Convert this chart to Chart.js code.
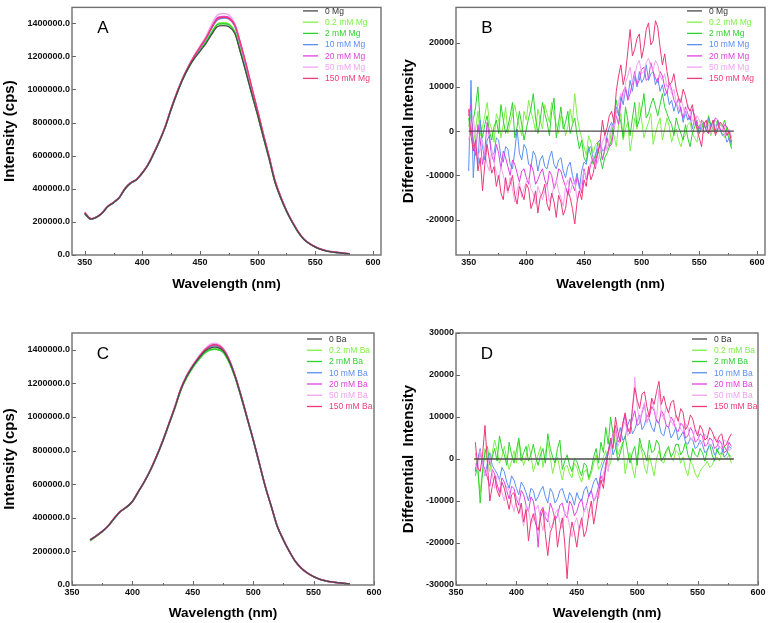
<!DOCTYPE html>
<html>
<head>
<meta charset="utf-8">
<script src="https://cdn.jsdelivr.net/npm/chart.js@4.4.0/dist/chart.umd.min.js"></script>
<style>
    html, body { margin: 0; padding: 0; background: #fff; }
    #wrap { position: relative; width: 768px; height: 623px; overflow: hidden; }
    canvas { position: absolute; }
    #cA { left: 0; top: 0; }
    #cB { left: 384px; top: 0; }
    #cC { left: 0; top: 300px; }
    #cD { left: 384px; top: 300px; }
</style>
</head>
<body>
<div id="wrap">
    <canvas id="cA" width="384" height="300"></canvas>
    <canvas id="cB" width="384" height="300"></canvas>
    <canvas id="cC" width="384" height="323"></canvas>
    <canvas id="cD" width="384" height="323"></canvas>
</div>
<script>
// データここから
const mgLabels = ["0 Mg", "0.2 mM Mg", "2 mM Mg", "10 mM Mg", "20 mM Mg", "50 mM Mg", "150 mM Mg"];
const baLabels = ["0 Ba", "0.2 mM Ba", "2 mM Ba", "10 mM Ba", "20 mM Ba", "50 mM Ba", "150 mM Ba"];

const tickX = [350, 400, 450, 500, 550, 600];
const tickYA = [0, 200000, 400000, 600000, 800000, 1000000, 1200000, 1400000];
const tickYB = [-20000, -10000, 0, 10000, 20000];
const tickYC = [0, 200000, 400000, 600000, 800000, 1000000, 1200000, 1400000];
const tickYD = [-30000, -20000, -10000, 0, 10000, 20000, 30000];

// A: Mg emission spectra
const wlA = [350,355,360,365,370,375,380,385,390,395,400,405,410,415,420,425,430,435,440,445,450,455,460,465,470,475,480,485,490,495,500,505,510,515,520,525,530,535,540,545,550,555,560,565,570,575,580];
const mg0A = [250000,217000,227000,252000,292000,316000,346000,400000,435000,455000,495000,545000,614000,690000,775000,880000,975000,1060000,1130000,1185000,1230000,1275000,1330000,1378000,1385000,1378000,1340000,1225000,1100000,970000,845000,710000,580000,440000,345000,265000,198000,140000,95000,68000,48000,34000,24000,18000,14000,10000,6000];
const mg02A = [248000,216000,226000,251000,291000,316000,345000,399000,434000,455000,494000,545000,613000,689000,774000,879000,975000,1061000,1131000,1190000,1238000,1287000,1345000,1395000,1402000,1396000,1352000,1232000,1104000,972000,846000,710000,579000,440000,344000,265000,197000,140000,95000,68000,48000,34000,24000,18000,14000,10000,6000];
const mg2A = [249000,216000,227000,252000,291000,315000,346000,399000,435000,454000,495000,544000,614000,689000,775000,879000,974000,1059000,1129000,1186000,1234000,1283000,1340000,1390000,1396000,1390000,1348000,1230000,1102000,970000,845000,710000,580000,440000,345000,264000,198000,139000,95000,68000,48000,34000,24000,18000,14000,10000,6000];
const mg10A = [252000,218000,228000,253000,293000,317000,347000,401000,436000,456000,496000,546000,615000,691000,777000,883000,979000,1065000,1136000,1198000,1250000,1303000,1368000,1420000,1430000,1425000,1385000,1270000,1140000,1000000,865000,725000,590000,448000,350000,268000,200000,142000,97000,69000,49000,35000,25000,18000,14000,10000,6000];
const mg20A = [254000,219000,228000,253000,293000,317000,347000,401000,436000,456000,496000,547000,616000,692000,778000,884000,980000,1066000,1138000,1200000,1254000,1308000,1376000,1432000,1440000,1435000,1392000,1278000,1148000,1005000,870000,728000,592000,450000,351000,269000,201000,143000,97000,69000,49000,35000,25000,19000,15000,10000,6000];
const mg50A = [255000,219000,229000,254000,294000,318000,348000,402000,437000,457000,497000,548000,618000,694000,780000,886000,982000,1068000,1140000,1204000,1260000,1318000,1390000,1448000,1458000,1450000,1400000,1280000,1148000,1005000,868000,726000,590000,449000,350000,268000,200000,142000,96000,69000,49000,35000,25000,19000,15000,11000,7000];
const mg150A = [258000,220000,229000,254000,294000,318000,348000,402000,437000,457000,497000,547000,617000,693000,779000,885000,981000,1067000,1138000,1200000,1255000,1306000,1372000,1425000,1435000,1428000,1392000,1280000,1152000,1010000,872000,728000,593000,451000,351000,269000,201000,143000,97000,69000,50000,35000,25000,19000,15000,11000,7000];

// B: Mg differential
const zeroWlB = [350, 580];
const zeroB = [0, 0];
const wlB = [350,352,354,356,358,360,362,364,366,368,370,372,374,376,378,380,382,384,386,388,390,392,394,396,398,400,402,404,406,408,410,412,414,416,418,420,422,424,426,428,430,432,434,436,438,440,442,444,446,448,450,452,454,456,458,460,462,464,466,468,470,472,474,476,478,480,482,484,486,488,490,492,494,496,498,500,502,504,506,508,510,512,514,516,518,520,522,524,526,528,530,532,534,536,538,540,542,544,546,548,550,552,554,556,558,560,562,564,566,568,570,572,574,576,578];
const mg02B = [1000,4000,-3000,500,4500,-1000,1000,3500,6500,2000,500,-2500,4000,2500,-1500,1500,5500,-500,2000,3500,6000,3000,1000,-1000,4500,2500,7000,4500,2500,0,5000,2500,500,6000,4000,2000,6500,3500,1500,-500,3500,2500,-1000,1000,5000,2000,8500,3500,500,-1500,-3500,-5500,-1000,-2500,-5000,-3000,-2500,-4000,-6500,-4500,-2000,-3500,1000,-1000,-3500,1500,4000,-2000,500,2000,-4500,-1000,3000,500,6500,2500,-1500,500,2000,4000,-3000,-500,1500,3000,-2000,500,3000,1000,-2500,-500,500,-2000,-3500,-1500,-1000,1500,2000,-500,-1500,-2500,1000,2500,-500,500,2500,-1000,500,2500,1500,0,-500,-1500,1000,-1000,-3500];
const mg2B = [3000,-1000,2500,5500,10000,2000,-1500,1500,3500,0,-2000,1000,2500,-500,6000,2500,-500,1000,3500,6500,-1500,1000,4500,1500,-2000,500,3000,5000,8500,3000,-500,2500,6500,4000,2000,-1000,4500,7500,-1500,2000,5500,500,2000,4500,-500,1500,3000,-1000,-4000,-2000,-6000,-7000,-3500,-5500,-7500,-5000,-4000,-6000,-8500,-6000,-5000,-3500,-2000,3000,7000,4000,2000,-1500,5500,2500,-1000,3000,6500,1000,2500,5000,8500,3000,4000,6000,7500,5500,3500,6000,8500,5500,4000,2500,1500,-1000,3000,1000,-500,-2000,1500,-1500,-3500,-500,1000,2500,-500,500,2000,0,3500,1500,500,-500,2500,1500,1000,2500,0,-2000,-4000];
const mg10B = [-9000,11500,-10500,-1500,-7500,2500,-3500,-6500,-2000,-1000,-5500,-5000,-1500,-2000,-6000,-7000,-3500,-4000,-7500,-8500,-4500,500,-5000,-6500,-3000,-4000,-7500,-8000,-4500,-5500,-9000,-6500,-5500,-8000,-8500,-6000,-4500,-7500,-8500,-6500,-6000,-9000,-10500,-8000,-7000,-10000,-12000,-9500,-13000,-9000,-7000,-7500,-4000,-3500,-6500,-6000,-2500,-2000,-4500,-4000,-1000,1000,2000,500,5500,3500,8000,6000,9500,7500,11500,9000,12500,10000,13500,11000,12000,15000,11500,13000,13500,10500,12000,9000,10500,8000,9000,6000,7000,4500,6500,4000,5500,2000,4500,2500,3500,500,3000,1000,-500,1500,2000,0,3000,1000,2500,0,2000,500,-1000,-500,-2500,-1500,-3000];
const mg20B = [3500,6000,-3000,-5500,1500,-2000,-7500,-4500,2000,-1500,-5500,-7000,-3000,-5000,-8500,-4500,-6000,-8000,-10000,-6500,-7500,-9500,-11500,-9000,-8500,-10500,-12000,-7500,-9000,-12000,-11000,-9500,-8500,-11000,-12500,-9000,-10000,-13000,-11500,-8500,-9000,-11000,-12500,-14500,-10500,-12000,-13500,-10500,-12000,-14000,-8500,-11000,-9500,-7500,-6000,-8500,-4500,-3000,-6500,-4000,-1500,-3500,-3000,500,3500,1500,6500,9000,10000,7000,8500,11000,13500,10500,11500,14000,14500,11500,12000,15500,13500,12000,11000,13500,12500,10000,8500,11000,9500,7000,6000,7500,4500,3000,5500,4000,2500,5000,3500,1500,500,2500,2000,0,-500,1000,1500,3000,2500,500,0,1500,1000,-500,-1500];
const mg50B = [-2000,1000,3000,-1500,-6000,-4000,-2500,-5000,-7500,-9000,-4000,-7000,-9500,-11000,-8000,-10000,-12000,-14000,-10500,-13000,-16000,-13500,-11500,-15000,-13000,-11500,-10500,-13000,-14000,-16500,-12500,-14000,-15500,-13500,-12000,-16000,-14500,-12500,-11000,-13500,-15000,-17000,-12500,-11000,-14000,-12000,-11500,-15500,-13500,-11500,-9000,-10500,-8500,-7000,-5500,-8000,-7000,-4500,-2500,-1000,-4500,-1500,1500,500,4000,6500,8500,7000,11000,12500,14500,11000,12500,15000,16000,13000,13500,15500,16500,14500,14000,16000,15000,12500,11500,13000,10000,11000,8500,9500,6500,5000,7500,5500,3500,6000,4500,2500,1500,3500,2500,1000,-500,500,1500,-500,2000,1500,0,2000,1000,-1000,-500,500,-1500];
const mg150B = [5000,-1000,-4500,-2000,-9000,-6000,-13500,-7500,-3000,-6500,-9500,-8000,-12500,-10000,-14000,-15500,-10500,-13500,-12000,-10000,-14500,-16500,-12500,-14000,-15500,-12000,-13000,-17500,-16000,-13500,-18500,-15000,-14000,-12000,-16500,-18000,-14000,-16000,-19500,-14500,-16000,-19000,-17500,-13500,-15000,-17500,-21000,-16000,-13500,-15500,-11000,-12500,-8000,-11000,-9500,-6500,-5000,-2500,2500,-1000,800,3500,4500,2000,9000,12500,15000,10500,13000,18000,23000,17000,18500,21000,22000,16500,19000,23000,24500,19500,20500,25000,23500,19000,15000,17500,13500,10500,11000,13000,9500,7500,6500,9500,8000,5500,4500,6000,2500,500,-1500,-3500,1500,2500,-500,1000,2500,-1000,500,2000,1500,500,-1000,0,-2500];

// C: Ba emission spectra
const wlC = [365,370,375,380,385,390,395,400,405,410,415,420,425,430,435,440,445,450,455,460,465,470,475,480,485,490,495,500,505,510,515,520,525,530,535,540,545,550,555,560,565,570,575,580];
const ba0C = [268000,292000,318000,352000,397000,437000,463000,497000,556000,616000,685000,765000,854000,953000,1053000,1162000,1241000,1301000,1350000,1392000,1412000,1414000,1395000,1335000,1241000,1122000,993000,864000,725000,586000,467000,348000,268000,199000,139000,99000,70000,50000,34000,24000,18000,14000,10000,6000];
const ba02C = [262000,289000,316000,350000,395000,436000,462000,496000,555000,615000,684000,764000,853000,951000,1050000,1158000,1236000,1296000,1345000,1385000,1403000,1405000,1388000,1328000,1236000,1118000,990000,862000,724000,585000,466000,347000,267000,198000,139000,99000,70000,50000,34000,24000,18000,14000,10000,6000];
const ba2C = [264000,290000,317000,351000,396000,436000,462000,496000,555000,615000,684000,764000,852000,950000,1049000,1157000,1235000,1294000,1342000,1382000,1400000,1402000,1386000,1326000,1235000,1117000,989000,861000,723000,585000,466000,347000,267000,198000,138000,98000,70000,50000,34000,24000,18000,14000,10000,6000];
const ba10C = [267000,292000,318000,352000,397000,437000,463000,498000,557000,617000,686000,766000,855000,955000,1055000,1165000,1245000,1305000,1355000,1398000,1420000,1422000,1402000,1340000,1244000,1125000,995000,866000,726000,587000,468000,349000,269000,199000,140000,99000,70000,50000,34000,24000,18000,14000,10000,6000];
const ba20C = [268000,293000,319000,353000,398000,438000,464000,498000,557000,617000,686000,767000,856000,956000,1056000,1166000,1247000,1307000,1358000,1402000,1428000,1430000,1408000,1343000,1246000,1126000,996000,866000,727000,587000,468000,349000,269000,200000,140000,99000,70000,50000,35000,25000,18000,14000,10000,6000];
const ba50C = [269000,293000,319000,353000,398000,438000,464000,499000,558000,618000,687000,768000,857000,957000,1058000,1168000,1249000,1309000,1360000,1405000,1435000,1436000,1410000,1345000,1247000,1127000,997000,867000,727000,588000,468000,349000,269000,200000,140000,99000,71000,50000,35000,25000,18000,14000,10000,7000];
const ba150C = [268000,293000,319000,353000,398000,438000,464000,498000,557000,617000,686000,767000,856000,956000,1056000,1166000,1246000,1306000,1356000,1400000,1425000,1428000,1405000,1342000,1246000,1126000,996000,866000,727000,588000,468000,349000,269000,200000,140000,99000,71000,50000,35000,25000,18000,14000,10000,7000];

// D: Ba differential
const zeroWlD = [365, 580];
const zeroD = [0, 0];
const wlD = [366,368,370,372,374,376,378,380,382,384,386,388,390,392,394,396,398,400,402,404,406,408,410,412,414,416,418,420,422,424,426,428,430,432,434,436,438,440,442,444,446,448,450,452,454,456,458,460,462,464,466,468,470,472,474,476,478,480,482,484,486,488,490,492,494,496,498,500,502,504,506,508,510,512,514,516,518,520,522,524,526,528,530,532,534,536,538,540,542,544,546,548,550,552,554,556,558,560,562,564,566,568,570,572,574,576,578];
const ba02D = [1500,-3000,-8000,-2500,2500,-500,-3000,1500,4500,2000,-1000,500,3000,0,-2500,-500,2000,-1000,4500,1500,-1500,500,3500,1000,-3000,-1000,1000,3000,-2000,1500,4000,500,-3500,-1000,500,-2500,-5000,-2000,-1500,-3500,-4500,-1000,-2000,-4000,-5500,-3000,-2500,-5000,-3500,-1000,1000,-2500,-1500,500,2000,-2000,-1000,3000,6500,1000,2500,4000,-3500,-500,1500,-2000,-4500,500,3500,1500,-2000,-3500,1000,-1500,-4000,0,2000,-500,-1000,1500,2500,500,-500,2000,1500,-1000,500,-2500,-4000,-500,-1500,-3500,-4500,-3000,-2000,-1500,-500,-2000,-1500,0,500,-500,1500,500,0,1000,-1000];
const ba2D = [-4000,-1500,-10500,-3000,1500,3000,-1500,500,2500,-500,5500,2500,1000,-1500,4000,1000,-1000,2000,5000,-500,1500,3000,-500,1000,3500,500,-1500,1000,2500,-1000,6000,2500,500,-1000,2500,4500,-2500,-500,1000,-1500,-3000,0,-500,-2500,-4000,-1000,-1500,-4500,-2500,500,2500,-1000,4000,1500,7500,3500,10000,6000,3500,-500,1500,3500,5500,2000,-1000,1500,3000,-1500,5000,2500,1500,-500,4500,1500,2000,4500,3500,-500,500,2000,3000,500,1500,3500,3500,1000,2000,4000,1000,-500,2500,1000,500,2500,1500,-500,2000,3500,1000,-500,2500,1000,1500,3000,2000,1000,500];
const ba10D = [-2500,0,2500,-1500,-4000,-1000,1500,-1500,-2500,-3500,-5000,-2000,-3000,-5500,-7000,-4000,-5000,-7000,-8500,-5500,-6500,-8000,-10000,-7000,-7500,-10000,-9000,-7500,-6500,-9000,-10500,-7000,-8000,-10500,-9500,-7500,-7000,-9000,-10500,-8000,-9000,-11000,-8000,-9500,-10000,-7500,-6500,-9000,-7500,-5500,-4500,-6500,-3000,-1000,500,2000,4500,1000,2500,5000,7500,4500,5000,8000,9500,6000,7000,9000,10500,7000,8000,10500,9500,7500,6500,9500,8500,6000,5500,8000,7500,5000,6000,7500,4500,5500,6500,4000,3500,5000,4500,2500,3000,4500,3500,1500,2000,3500,3000,1000,1500,3000,2500,500,1000,3000,2500];
const ba20D = [-3000,-500,1500,-1000,-2500,-4500,-6500,-2500,-3500,-6000,-8000,-4500,-5500,-7500,-9500,-6500,-7000,-9500,-11000,-7500,-8500,-11000,-12500,-9000,-10000,-13500,-21000,-12500,-11500,-14000,-15000,-10500,-12000,-14500,-13500,-11000,-10500,-13000,-14000,-10000,-11000,-13500,-12500,-10500,-9500,-12500,-11000,-8500,-7500,-10000,-9000,-6500,-4000,-5500,-1000,1500,3500,6000,8000,4000,5000,8000,10500,6500,7000,9500,11500,8000,8500,11000,13000,9000,10000,12500,11500,9000,8500,11500,10500,8000,7500,10000,9000,7000,6500,8500,8000,5000,5500,7500,6500,4000,4500,6000,5500,3000,3500,5000,4500,2500,3000,4500,3500,1500,2000,4000,3000];
const ba50D = [-1000,-3000,2000,-1500,-4000,-2000,1000,-3500,-7000,-4000,-5000,-8000,-10000,-6500,-7500,-10500,-12500,-9000,-9500,-13000,-16000,-11000,-12000,-15500,-14500,-12000,-11000,-14500,-17000,-12500,-13500,-16500,-15500,-13000,-12000,-15000,-16500,-12500,-13000,-16000,-18500,-15500,-14000,-17000,-15500,-12500,-11000,-14000,-13000,-10000,-8500,-9500,-6000,-3500,-1500,-3000,2500,5500,7000,3000,4500,7500,9000,5500,6500,11000,19500,12500,9000,11500,13500,8500,10500,14000,12000,9500,16500,11000,9500,12500,11000,9000,8000,10500,9500,7000,6500,8500,7500,4500,5000,7000,6500,3500,4000,6000,5000,3000,3500,5500,4500,2500,3000,4500,4000,2000,2500];
const ba150D = [4000,-2000,-3000,1000,8000,-1000,-10000,-6500,-4000,-7500,-9000,-5500,-7000,-9500,-12000,-8500,-8000,-11000,-13000,-10500,-15000,-12000,-19500,-15000,-13000,-15500,-17000,-14000,-12000,-18000,-23000,-17500,-16000,-13500,-21000,-17000,-14000,-20000,-28500,-19000,-15000,-17500,-21000,-16500,-14000,-18500,-17000,-13000,-10000,-15500,-12000,-8000,-5000,-7000,-2000,1500,5000,2500,10000,6500,4000,8500,11000,7500,6000,12000,17000,14000,12000,15500,16000,12500,10000,14500,13000,16000,18500,13000,15000,12500,11000,13500,14000,10500,9000,12000,11000,7000,8000,10500,9500,7000,5500,8000,7000,4500,5000,7500,6500,5000,4000,5500,6000,3000,3500,5000,6000];
// データここまで

const lineColors = ["#4a4a4a", "#80f048", "#2fd22f", "#5b8ff0", "#e040e0", "#f2a2f0", "#eb3a78"];
const textColors = ["#333333", "#80f048", "#2fd22f", "#5b8ff0", "#e040e0", "#f2a2f0", "#eb3a78"];
const drawOrder = [0, 6, 5, 4, 3, 2, 1];
const family = "'Liberation Sans', Arial, Helvetica, sans-serif";

// 枠・目盛・記号・凡例の描画
const framePlugin = {
    id: "frame",
    afterDraw(chart, args, opts) {
        const ctx = chart.ctx;
        const a = chart.chartArea;
        const xs = chart.scales.x;
        const ys = chart.scales.y;
        ctx.save();

        // 内向きの目盛
        ctx.strokeStyle = "#666";
        ctx.lineWidth = 1;
        ctx.beginPath();
        xs.ticks.forEach(function (t, i) {
            let px = Math.round(xs.getPixelForValue(t.value)) + 0.5;
            ctx.moveTo(px, a.bottom);
            ctx.lineTo(px, a.bottom - 4);
            if (i < xs.ticks.length - 1) {
                let mx = Math.round(xs.getPixelForValue((t.value + xs.ticks[i + 1].value) / 2)) + 0.5;
                ctx.moveTo(mx, a.bottom);
                ctx.lineTo(mx, a.bottom - 2);
            }
        });
        ys.ticks.forEach(function (t) {
            let py = Math.round(ys.getPixelForValue(t.value)) + 0.5;
            ctx.moveTo(a.left, py);
            ctx.lineTo(a.left + 4, py);
        });
        ctx.stroke();

        // 外枠
        ctx.strokeStyle = "#707070";
        ctx.lineWidth = 1.4;
        ctx.strokeRect(a.left, a.top, a.right - a.left, a.bottom - a.top);

        // パネル記号
        ctx.fillStyle = "#000";
        ctx.font = "17px " + family;
        ctx.textAlign = "center";
        ctx.textBaseline = "middle";
        ctx.fillText(opts.letter, a.left + 31, a.top + 21);

        // 凡例
        ctx.font = "8.5px " + family;
        ctx.textAlign = "left";
        chart.data.datasets.forEach(function (ds, i) {
            let y = a.top + opts.legendTop + i * 11.25;
            let x = a.left + opts.legendLeft;
            ctx.strokeStyle = ds.borderColor;
            ctx.lineWidth = 1.3;
            ctx.beginPath();
            ctx.moveTo(x, y);
            ctx.lineTo(x + 15, y);
            ctx.stroke();
            ctx.fillStyle = textColors[i];
            ctx.fillText(ds.label, x + 22, y + 0.5);
        });
        ctx.restore();
    },
};

function makeDatasets(labels, xList, yList, width, tension) {
    return labels.map(function (label, i) {
        return {
            label: label,
            data: xList[i].map(function (x, j) {
                return { x: x, y: yList[i][j] };
            }),
            borderColor: lineColors[i],
            borderWidth: i === 0 ? 1.3 : width,
            pointRadius: 0,
            tension: tension,
            order: drawOrder[i],
        };
    });
}

function makeChart(id, p) {
    const tickFont = { family: family, size: 9, weight: "bold" };
    return new Chart(document.getElementById(id), {
        type: "line",
        data: { datasets: p.datasets },
        options: {
            responsive: false,
            animation: false,
            layout: { padding: p.pad },
            plugins: {
                legend: { display: false },
                tooltip: { enabled: false },
                frame: { letter: p.letter, legendLeft: p.legendLeft, legendTop: p.legendTop },
            },
            scales: {
                x: {
                    type: "linear",
                    min: p.xMin,
                    max: p.xMax,
                    afterBuildTicks: function (s) {
                        s.ticks = tickX.map(function (v) { return { value: v }; });
                    },
                    afterFit: function (s) { s.height = p.xHeight; },
                    grid: { display: false, drawTicks: false },
                    border: { display: false },
                    ticks: { padding: 2, color: "#111", font: tickFont, maxRotation: 0, autoSkip: false },
                    title: {
                        display: true,
                        text: "Wavelength (nm)",
                        color: "#000",
                        font: { family: family, size: 13.5, weight: "bold" },
                        padding: { top: 0, bottom: p.xTitlePad },
                    },
                },
                y: {
                    type: "linear",
                    min: p.yMin,
                    max: p.yMax,
                    afterBuildTicks: function (s) {
                        s.ticks = p.yTicks.map(function (v) { return { value: v }; });
                    },
                    afterFit: function (s) { s.width = 72; },
                    grid: { display: false, drawTicks: false },
                    border: { display: false },
                    ticks: { padding: 2, color: "#111", font: tickFont, autoSkip: false, callback: p.yFmt },
                    title: {
                        display: true,
                        text: p.yTitle,
                        color: "#000",
                        font: { family: family, size: 15, weight: "bold" },
                        padding: { top: p.yTitlePad, bottom: 0 },
                    },
                },
            },
        },
        plugins: [framePlugin],
    });
}

const fmtFixed = function (v) { return Number(v).toFixed(1); };
const fmtInt = function (v) { return String(v); };

makeChart("cA", {
    datasets: makeDatasets(mgLabels, [wlA, wlA, wlA, wlA, wlA, wlA, wlA],
        [mg0A, mg02A, mg2A, mg10A, mg20A, mg50A, mg150A], 1.5, 0.3),
    xMin: 339, xMax: 607, yMin: 0, yMax: 1495000, yTicks: tickYA, yFmt: fmtFixed,
    yTitle: "Intensity (cps)", yTitlePad: 1, xHeight: 45, xTitlePad: 8,
    pad: { left: 0, right: 3, top: 4, bottom: 0 }, letter: "A", legendLeft: 231, legendTop: 3.5,
});

makeChart("cB", {
    datasets: makeDatasets(mgLabels, [zeroWlB, wlB, wlB, wlB, wlB, wlB, wlB],
        [zeroB, mg02B, mg2B, mg10B, mg20B, mg50B, mg150B], 1, 0),
    xMin: 339, xMax: 607, yMin: -28000, yMax: 28000, yTicks: tickYB, yFmt: fmtInt,
    yTitle: "Differential Intensity", yTitlePad: 16, xHeight: 45, xTitlePad: 8,
    pad: { left: 0, right: 3, top: 4, bottom: 0 }, letter: "B", legendLeft: 231, legendTop: 3.5,
});

makeChart("cC", {
    datasets: makeDatasets(baLabels, [wlC, wlC, wlC, wlC, wlC, wlC, wlC],
        [ba0C, ba02C, ba2C, ba10C, ba20C, ba50C, ba150C], 1.5, 0.3),
    xMin: 350, xMax: 600, yMin: 0, yMax: 1500000, yTicks: tickYC, yFmt: fmtFixed,
    yTitle: "Intensity (cps)", yTitlePad: 1, xHeight: 38, xTitlePad: 2,
    pad: { left: 0, right: 10, top: 33, bottom: 0 }, letter: "C", legendLeft: 235, legendTop: 6,
});

makeChart("cD", {
    datasets: makeDatasets(baLabels, [zeroWlD, wlD, wlD, wlD, wlD, wlD, wlD],
        [zeroD, ba02D, ba2D, ba10D, ba20D, ba50D, ba150D], 1, 0),
    xMin: 350, xMax: 600, yMin: -30000, yMax: 30000, yTicks: tickYD, yFmt: fmtInt,
    yTitle: "Differential  Intensity", yTitlePad: 16, xHeight: 38, xTitlePad: 2,
    pad: { left: 0, right: 10, top: 33, bottom: 0 }, letter: "D", legendLeft: 236, legendTop: 6,
});
</script>
</body>
</html>
